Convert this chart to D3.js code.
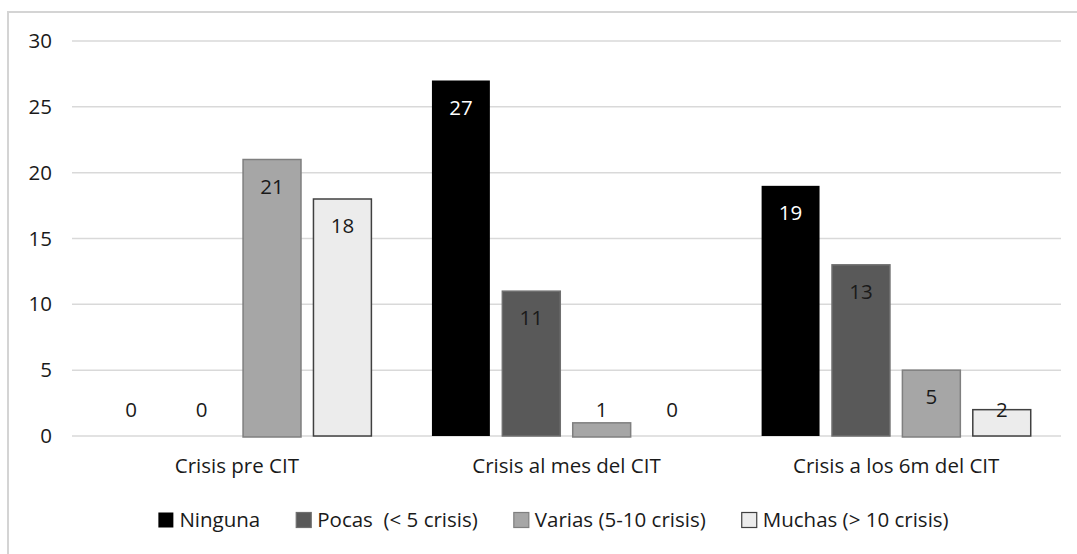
<!DOCTYPE html>
<html>
<head>
<meta charset="utf-8">
<script src="https://cdn.jsdelivr.net/npm/d3@7/dist/d3.min.js"></script>
<style>
  html, body { margin: 0; padding: 0; background: #fff; }
  svg { display: block; }
  text { font-family: "Open Sans", sans-serif; fill: #1a1a1a; }
</style>
</head>
<body>
<svg id="chart" width="1077" height="554"></svg>
<script>
// ---- data ----
const categories = ["Crisis pre CIT", "Crisis al mes del CIT", "Crisis a los 6m del CIT"];
const seriesNames = ["Ninguna", "Pocas  (< 5 crisis)", "Varias (5-10 crisis)", "Muchas (> 10 crisis)"];
const ninguna = [0, 27, 19];
const pocas   = [0, 11, 13];
const varias  = [21, 1, 5];
const muchas  = [18, 0, 2];
const yTicks  = [0, 5, 10, 15, 20, 25, 30];

const seriesValues = [ninguna, pocas, varias, muchas];
const fills   = ["#000000", "#595959", "#a6a6a6", "#ececec"];
const strokes = ["#000000", "#6f6f6f", "#7f7f7f", "#404040"];
const labelColors = ["#ffffff", "#1a1a1a", "#1a1a1a", "#1a1a1a"];

const svg = d3.select("#chart");
const plot = { left: 72, right: 1061, top: 41, bottom: 436 };
const fontSize = 20.5;

// frame
svg.append("rect")
  .attr("x", 8).attr("y", 12)
  .attr("width", 1120).attr("height", 600)
  .attr("fill", "#fff")
  .attr("stroke", "#d4d4d4").attr("stroke-width", 2);

const y = d3.scaleLinear().domain([0, 30]).range([plot.bottom, plot.top]);
const x0 = d3.scaleBand().domain(categories).range([plot.left, plot.right]).padding(0);
const x1 = d3.scaleBand().domain(d3.range(seriesNames.length))
  .range([0, x0.bandwidth()]).paddingInner(0.177).paddingOuter(0.43);

// gridlines
svg.append("g").selectAll("line").data(yTicks).join("line")
  .attr("x1", plot.left).attr("x2", plot.right)
  .attr("y1", d => y(d)).attr("y2", d => y(d))
  .attr("stroke", "#d9d9d9").attr("stroke-width", 1.5);

// y axis labels
const yAxis = d3.axisLeft(y).tickValues(yTicks).tickSize(0).tickPadding(20);
const yg = svg.append("g").attr("transform", `translate(${plot.left},0)`).call(yAxis);
yg.select(".domain").remove();
yg.selectAll("text").attr("font-size", fontSize).attr("font-family", "Open Sans, sans-serif").attr("fill", "#1a1a1a");

// x axis labels
const xAxis = d3.axisBottom(x0).tickSize(0).tickPadding(22);
const xg = svg.append("g").attr("transform", `translate(0,${plot.bottom})`).call(xAxis);
xg.select(".domain").remove();
xg.selectAll("text").attr("font-size", fontSize).attr("font-family", "Open Sans, sans-serif").attr("fill", "#1a1a1a");

// bars
const rows = [];
categories.forEach((c, ci) => {
  seriesValues.forEach((vals, si) => rows.push({ c, si, v: vals[ci] }));
});

const bars = svg.append("g");
bars.selectAll("rect").data(rows.filter(d => d.v > 0)).join("rect")
  .attr("x", d => x0(d.c) + x1(d.si))
  .attr("y", d => y(d.v))
  .attr("width", x1.bandwidth())
  .attr("height", d => y(0) - y(d.v) + (d.si === 2 ? 1 : 0))
  .attr("fill", d => fills[d.si])
  .attr("stroke", d => strokes[d.si])
  .attr("stroke-width", d => d.si === 0 ? 0 : 1.5);

// data labels
svg.append("g").selectAll("text").data(rows).join("text")
  .attr("x", d => x0(d.c) + x1(d.si) + x1.bandwidth() / 2)
  .attr("y", d => Math.min(y(d.v) + 27, y(0) - 26))
  .attr("dy", "0.35em")
  .attr("text-anchor", "middle")
  .attr("font-size", fontSize)
  .style("fill", d => (y(0) - y(d.v) > 50) ? labelColors[d.si] : "#1a1a1a")
  .text(d => d.v);

// legend
const legY = 520;
const sq = 15, gapSq = 6, gapItem = 36;
const leg = svg.append("g");
const items = seriesNames.map((n, i) => {
  const g = leg.append("g");
  g.append("rect").attr("width", sq).attr("height", sq).attr("y", legY - sq / 2)
    .attr("fill", fills[i]).attr("stroke", strokes[i]).attr("stroke-width", i === 0 ? 0 : 1.2);
  const t = g.append("text").attr("x", sq + gapSq).attr("y", legY).attr("dy", "0.35em")
    .attr("font-size", fontSize).attr("xml:space", "preserve").style("white-space", "pre").text(n);
  return { g, w: sq + gapSq + t.node().getComputedTextLength() };
});
const total = d3.sum(items, d => d.w) + gapItem * (items.length - 1);
let cx = 553.5 - total / 2;
items.forEach(it => { it.g.attr("transform", `translate(${cx},0)`); cx += it.w + gapItem; });
</script>
</body>
</html>
